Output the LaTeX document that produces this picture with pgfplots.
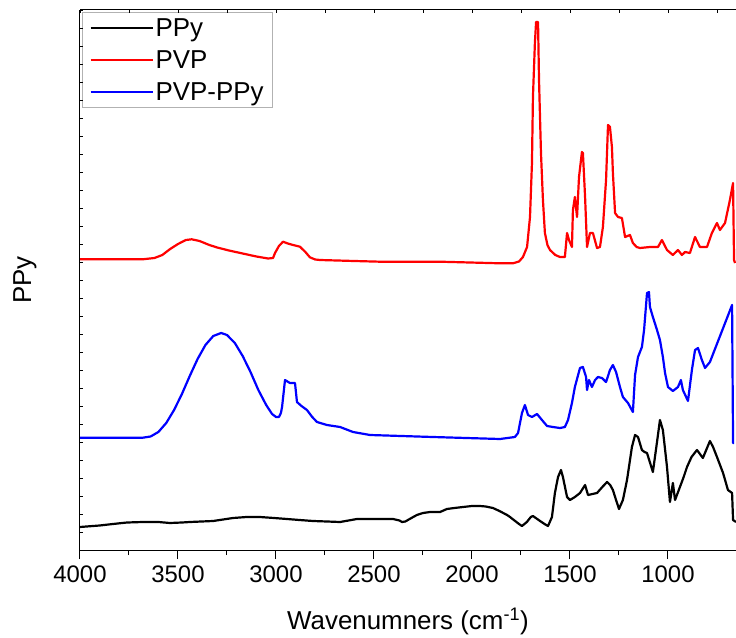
\documentclass[border=0pt]{standalone}
\usepackage{pgfplots}
\pgfplotsset{compat=1.18}
\usepackage{pgfplotstable}
\usepackage{fontspec}
\setmainfont{Liberation Sans}

% FTIR spectra: wavenumber (cm^-1) versus offset absorbance (arb. units)
\pgfplotstableread{
wn h
4000 23
3900 24.5
3832 26
3760 27.5
3679 28
3600 28
3541 27
3480 27.5
3439 28
3380 28.5
3321 29
3270 30.5
3219 32
3150 33
3082 33
3010 32
2944 31
2880 30
2811 29
2740 28.5
2673 28
2630 29.5
2587 31
2520 31
2469 31
2403 31
2370 29.5
2357 28
2340 28.5
2327 30
2300 33
2281 35
2250 37
2214 38
2163 38
2128 41
2090 42
2046 43
2000 44
1959 44
1930 43.5
1893 42
1860 39
1821 35
1806 33
1780 29
1760 26
1745 24
1720 28
1700 33
1689 34
1660 30
1630 26
1612 24
1592 33
1577 57
1561 73
1546 80
1536 73
1515 53
1500 50
1475 53
1449 57
1423 65
1408 55
1385 56
1362 57
1335 63
1311 68
1295 65
1281 60
1265 50
1250 41
1230 50
1209 70
1184 103
1168 115
1153 113
1133 100
1120 98
1107 97
1077 78
1056 108
1041 130
1026 120
1005 83
990 48
975 67
964 50
939 63
920 73
903 83
880 93
852 100
822 92
805 100
786 109
770 103
750 93
719 77
694 60
673 57
668 30
653 28
}\ppy

\pgfplotstableread{
wn h
4000 290.7
3680 290.7
3620 292
3580 295
3540 301
3500 306
3460 310
3430 310.7
3390 309
3340 305
3300 302.5
3240 299.5
3170 296.5
3100 293.5
3040 291.5
3015 292
3005 297
2985 304
2964 308.3
2940 306.5
2913 305
2878 303.3
2850 298
2827 292.7
2800 290.5
2776 290
2600 289
2469 288.3
2163 288.3
1857 286.7
1791 286.7
1760 288.5
1740 293
1719 303
1704 333
1694 387
1689 453
1679 507
1673 528
1663 528
1658 470
1648 397
1638 350
1628 317
1615 305
1602 300
1575 295
1551 293
1526 293
1515 317
1505 310
1490 303
1485 340
1475 353
1464 333
1454 373
1439 398
1434 397
1423 353
1413 303
1398 317
1383 317
1362 302
1347 303
1332 323
1316 370
1306 425
1296 423
1286 403
1281 377
1270 337
1255 333
1235 332
1219 313
1194 315
1179 307
1160 303
1143 302
1092 303
1051 303
1031 310
1005 300
975 295
949 300
929 295
913 298
888 297
862 313
837 303
801 303
776 317
750 327
735 320
709 327
684 350
668 367
663 290
658 287
}\pvp

\pgfplotstableread{
wn h
4000 112.3
3680 112.3
3640 113.5
3600 118
3560 127
3520 140
3480 156
3440 174
3400 191
3360 205
3320 214
3280 217
3250 215
3210 207
3170 194
3130 178
3090 160
3050 145
3020 136
3000 133
2985 133
2975 137
2969 143
2954 170
2929 167
2903 167
2893 148
2870 144
2842 140
2815 133
2791 128
2740 125
2673 123
2607 118
2520 115
2200 113
1857 111
1781 113
1765 117
1745 137
1730 145
1714 135
1694 133
1668 136
1643 130
1617 124
1587 123
1551 122
1526 123
1510 130
1490 147
1475 163
1449 182
1434 183
1418 173
1413 160
1403 170
1388 163
1372 170
1357 173
1337 172
1316 168
1296 180
1281 185
1265 178
1245 163
1230 153
1204 147
1179 138
1168 175
1153 193
1133 203
1122 220
1107 257
1097 258
1092 243
1077 233
1056 220
1041 210
1026 193
1015 177
1000 163
975 159
949 163
934 170
924 160
898 149
878 180
862 200
847 202
827 190
811 182
786 188
673 245
668 107
663 107
}\pvpppy

\begin{document}
\begin{tikzpicture}
\useasboundingbox (-80bp,-88bp) rectangle (656bp,550bp);
\pgfplotsset{
  spec frame/.style={
    width=656bp, height=540bp, scale only axis,
    at={(0,0)}, anchor=south west,
    x dir=reverse, xmin=653, xmax=4000,
    ymin=0, ymax=540,
    /pgf/number format/assume math mode=true,
  }
}
% main axis: spectra, bottom ticks, labels, legend
\begin{axis}[
  spec frame,
  axis x line*=bottom, axis y line*=left,
  axis line style={line width=1bp},
  xtick={1000,1500,...,4000},
  minor x tick num=1,
  ytick=\empty,
  tick align=outside,
  major tick length=9bp, minor tick length=5bp,
  tick style={line width=1bp, black},
  /pgf/number format/.cd, set thousands separator={}, /pgfplots/.cd,
  ticklabel style={font=\fontsize{24}{26}\selectfont},
  xticklabel style={yshift=-3bp},
  xlabel={Wavenumners (cm\textsuperscript{-1})},
  xlabel style={font=\fontsize{26}{28}\selectfont, at={(axis description cs:0.5,-0.133)}, anchor=center},
  ylabel={PPy},
  ylabel style={font=\fontsize{26}{28}\selectfont, at={(axis description cs:-0.084,0.5)}, anchor=center},
  legend style={at={(axis description cs:0.003,0.996)}, anchor=north west,
    draw=gray!60, line width=1bp, font=\fontsize{26}{28}\selectfont,
    inner xsep=7bp, inner ysep=5bp, row sep=10.5bp,
    nodes={inner ysep=1bp}},
  legend cell align=left,
  legend image code/.code={\draw[#1, line width=2.2bp] (0bp,0bp) -- (62bp,0bp);},
  every axis plot/.append style={line width=2.2bp, line join=round},
]
\addplot[black] table[x=wn, y=h] {\ppy};
\addlegendentry{PPy}
\addplot[red] table[x=wn, y=h] {\pvp};
\addlegendentry{PVP}
\addplot[blue] table[x=wn, y=h] {\pvpppy};
\addlegendentry{PVP-PPy}
\end{axis}
% frame: top line and left axis with short inward ticks
\begin{axis}[
  spec frame,
  axis x line*=top, axis y line*=left,
  axis line style={line width=1bp},
  xtick distance=250, ytick distance=18,
  xticklabels={}, yticklabels={},
  tick align=inside, major tick length=3bp,
  tick style={line width=0.8bp, black},
]
\end{axis}
\end{tikzpicture}
\end{document}
